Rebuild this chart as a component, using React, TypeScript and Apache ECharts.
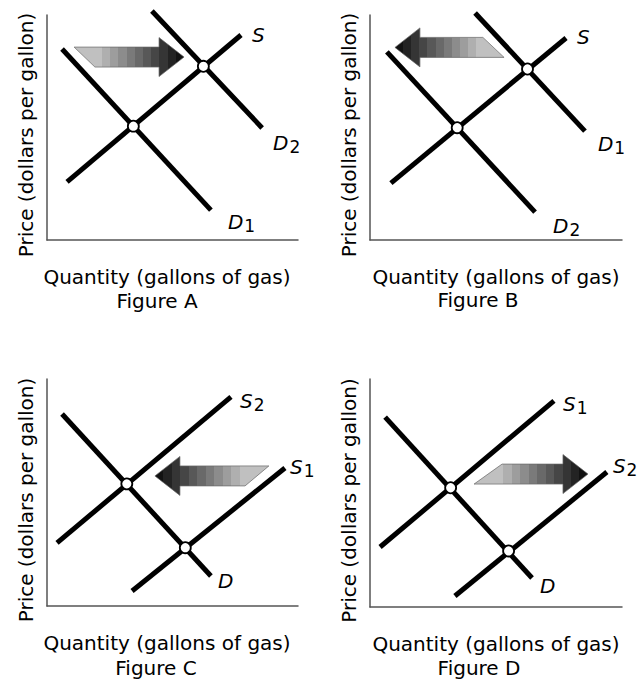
import React, { useEffect, useRef } from 'react';
import * as echarts from 'echarts';

// ---------- text ----------
const figureLabels = ['Figure A', 'Figure B', 'Figure C', 'Figure D'];
const xAxisTitle = 'Quantity (gallons of gas)';
const yAxisTitle = 'Price (dollars per gallon)';

// ---------- data (axis units 0..100 on both axes) ----------
// each curve: [letter, subscript, [[x1, y1], [x2, y2]]]
const curvesA: any[] = [
  ['D', '1', [[6.0, 84.9], [65.3, 13.3]]],
  ['S', '', [[8.0, 25.8], [77.3, 91.1]]],
  ['D', '2', [[41.8, 101.8], [85.7, 49.8]]],
];
const curvesB: any[] = [
  ['D', '2', [[6.7, 83.6], [65.5, 12.4]]],
  ['S', '', [[8.3, 25.3], [77.8, 89.8]]],
  ['D', '1', [[41.7, 100.9], [85.3, 48.4]]],
];
const curvesC: any[] = [
  ['D', '', [[6.0, 84.6], [65.3, 13.2]]],
  ['S', '2', [[4.0, 27.8], [73.3, 92.1]]],
  ['S', '1', [[33.9, 6.6], [94.8, 60.8]]],
];
const curvesD: any[] = [
  ['D', '', [[6.0, 83.3], [64.3, 12.7]]],
  ['S', '1', [[4.0, 26.3], [73.0, 90.4]]],
  ['S', '2', [[33.7, 4.8], [94.0, 59.2]]],
];

// equilibrium points
const equilibriaA = [[34.4, 50.6], [62.3, 77.2]];
const equilibriaB = [[34.6, 49.9], [62.5, 76.0]];
const equilibriaC = [[31.8, 53.8], [55.1, 25.7]];
const equilibriaD = [[32.0, 52.3], [55.0, 24.6]];

// shift arrows: [tail x (top edge), tail x (bottom edge), tip x, y]
const shiftA = [10.8, 19.1, 54.6, 81.3];
const shiftB = [44.8, 53.2, 9.9, 85.6];
const shiftC = [88.4, 78.9, 43.0, 57.3];
const shiftD = [52.4, 41.3, 86.5, 58.3];

const allCurves = [curvesA, curvesB, curvesC, curvesD];
const allEquilibria = [equilibriaA, equilibriaB, equilibriaC, equilibriaD];
const allShifts = [shiftA, shiftB, shiftC, shiftD];

// ---------- layout / style ----------
const FONT = 'DejaVu Sans';
const grids = [
  { left: 47, top: 15, width: 251, height: 225 },
  { left: 370, top: 15, width: 252, height: 225 },
  { left: 47, top: 379, width: 251, height: 227 },
  { left: 370, top: 379, width: 252, height: 228 },
];
const xNamePadding = [[0, 11, 0, 0], [0, 0, 0, 0], [0, 11, 0, 0], [0, 0, 0, 0]];
const figurePos = [[157, 301], [478, 300], [156, 668], [479, 668]];
const labelOffsets = [
  [[9, 12], [3, 0], [3, 15]],
  [[10, 14], [3, -1], [5, 13]],
  [[-1, 5], [1, 4], [-3, -1]],
  [[0, 8], [1, 3], [-2, -6]],
];
const HEAD_LEN = 25;
const HEAD_HALF = 19.5;
const SHAFT_HALF = 10;

function bandGradient(dir: number) {
  const n = 11;
  const light = [192, 192, 192];
  const dark = [18, 18, 18];
  const stops: any[] = [];
  for (let i = 0; i < n; i++) {
    const t = i / (n - 1);
    const c = light.map((l, k) => Math.round(l + (dark[k] - l) * t));
    const color = `rgb(${c[0]},${c[1]},${c[2]})`;
    const o0 = i === 0 ? 0 : 0.18 + (0.82 * i) / n;
    const o1 = i === n - 1 ? 1 : 0.18 + (0.82 * (i + 1)) / n;
    stops.push({ offset: o0, color }, { offset: o1, color });
  }
  return dir > 0
    ? new echarts.graphic.LinearGradient(0, 0, 1, 0, stops)
    : new echarts.graphic.LinearGradient(1, 0, 0, 0, stops);
}

function buildOption() {
  const xAxis: any[] = [];
  const yAxis: any[] = [];
  const series: any[] = [];
  const axisLine = { show: true, onZero: false, lineStyle: { color: '#555', width: 1.5 } };
  grids.forEach((g, i) => {
    xAxis.push({
      type: 'value', gridIndex: i, min: 0, max: 100,
      axisLine, axisTick: { show: false }, axisLabel: { show: false }, splitLine: { show: false },
      name: xAxisTitle, nameLocation: 'middle', nameGap: 27,
      nameTextStyle: { fontFamily: FONT, fontSize: 20, color: '#000', padding: xNamePadding[i] },
    });
    yAxis.push({
      type: 'value', gridIndex: i, min: 0, max: 100,
      axisLine, axisTick: { show: false }, axisLabel: { show: false }, splitLine: { show: false },
      name: yAxisTitle, nameLocation: 'middle', nameGap: 11,
      nameTextStyle: { fontFamily: FONT, fontSize: 20, color: '#000', padding: [0, 15, 0, 0] },
    });
    allCurves[i].forEach((c: any, j: number) => {
      const [letter, sub, pts] = c;
      series.push({
        type: 'line', xAxisIndex: i, yAxisIndex: i, data: pts, symbol: 'none', clip: false,
        lineStyle: { color: '#000', width: 5, cap: 'butt' }, z: 2, silent: true,
        endLabel: {
          show: true, offset: labelOffsets[i][j],
          formatter: sub ? `{i|${letter}}{s|${sub}}` : `{i|${letter}}`,
          rich: {
            i: { fontFamily: FONT, fontStyle: 'italic', fontSize: 20, color: '#000' },
            s: { fontFamily: FONT, fontSize: 17, color: '#000', padding: [8, 0, 0, 1] },
          },
        },
      });
    });
    series.push({
      type: 'scatter', xAxisIndex: i, yAxisIndex: i, data: allEquilibria[i], symbol: 'circle',
      symbolSize: 11, clip: false, z: 4, silent: true,
      itemStyle: { color: '#fff', borderColor: '#000', borderWidth: 1.8, opacity: 1 },
    });
    series.push({
      type: 'custom', xAxisIndex: i, yAxisIndex: i, data: [allShifts[i]], clip: false, z: 3, silent: true,
      encode: { x: [0, 1, 2], y: [3] },
      renderItem: (params: any, api: any) => {
        const yv = api.value(3);
        const top = api.coord([api.value(0), yv]);
        const bot = api.coord([api.value(1), yv]);
        const tip = api.coord([api.value(2), yv]);
        const cy = tip[1];
        const dir = tip[0] > top[0] ? 1 : -1;
        const base = tip[0] - dir * HEAD_LEN;
        const points = [
          [top[0], cy - SHAFT_HALF], [base, cy - SHAFT_HALF], [base, cy - HEAD_HALF],
          [tip[0], cy], [base, cy + HEAD_HALF], [base, cy + SHAFT_HALF], [bot[0], cy + SHAFT_HALF],
        ];
        return {
          type: 'polygon', shape: { points },
          style: { fill: bandGradient(dir), stroke: '#666', lineWidth: 0.7 },
        };
      },
    });
  });

  const graphic = figureLabels.map((t, i) => ({
    type: 'text', x: figurePos[i][0], y: figurePos[i][1], silent: true,
    style: { text: t, fontFamily: FONT, fontSize: 20, fill: '#000', align: 'center', verticalAlign: 'middle' },
  }));

  return {
    animation: false,
    backgroundColor: '#fff',
    grid: grids.map((g) => ({ ...g, containLabel: false })),
    xAxis, yAxis, series, graphic,
  };
}

export default function App() {
  const ref = useRef<HTMLDivElement>(null);
  useEffect(() => {
    if (!ref.current) return;
    const chart = echarts.init(ref.current, undefined, { renderer: 'svg' });
    chart.setOption(buildOption() as any);
    return () => chart.dispose();
  }, []);
  return (
    <div
      ref={ref}
      style={{ position: 'fixed', left: 0, top: 0, width: 640, height: 681, background: '#fff' }}
    />
  );
}
